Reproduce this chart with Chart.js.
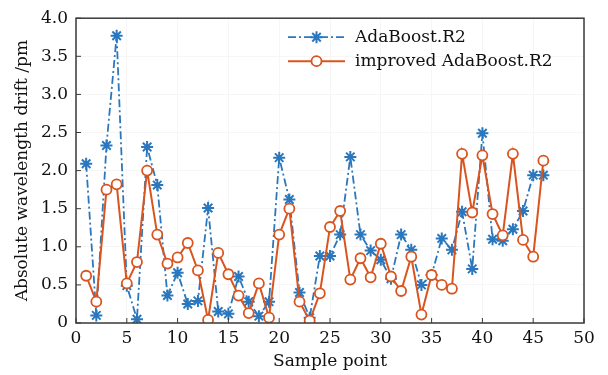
<!DOCTYPE html>
<html>
<head>
<meta charset="utf-8">
<script src="https://cdn.jsdelivr.net/npm/chart.js@4.4.0/dist/chart.umd.min.js"></script>
<style>
  body { margin: 0; background: #fff; }
  #wrap { width: 608px; height: 375px; }
</style>
</head>
<body>
<div id="wrap"><canvas id="graphique_drift"></canvas></div>
<script>
// donnees
const samples = [1,2,3,4,5,6,7,8,9,10,11,12,13,14,15,16,17,18,19,20,21,22,23,24,25,26,27,28,29,30,31,32,33,34,35,36,37,38,39,40,41,42,43,44,45,46];
const adaboost = [2.09,0.10,2.33,3.77,0.49,0.05,2.31,1.81,0.36,0.66,0.25,0.29,1.51,0.15,0.12,0.61,0.28,0.09,0.28,2.17,1.62,0.40,0.07,0.88,0.88,1.16,2.18,1.16,0.95,0.83,0.58,1.16,0.96,0.50,0.63,1.11,0.96,1.46,0.71,2.49,1.10,1.08,1.23,1.47,1.94,1.94];
const improved = [0.62,0.28,1.75,1.82,0.52,0.80,2.00,1.16,0.78,0.86,1.05,0.69,0.04,0.92,0.64,0.36,0.13,0.52,0.07,1.16,1.50,0.28,0.03,0.39,1.26,1.47,0.57,0.85,0.60,1.04,0.61,0.42,0.87,0.11,0.63,0.50,0.45,2.22,1.45,2.20,1.43,1.15,2.22,1.09,0.87,2.13];
const seriesNames = ['AdaBoost.R2', 'improved AdaBoost.R2'];

const BLUE = '#2a77bd';
const ORANGE = '#d9541e';
const FONT = 'DejaVu Serif';

// cadre + petits traits vers l'interieur + legende dans le graphe
const cadrePlugin = {
  id: 'cadre',
  afterDraw(chart) {
    const ctx = chart.ctx;
    const a = chart.chartArea;
    const sx = chart.scales.x, sy = chart.scales.y;
    ctx.save();
    ctx.strokeStyle = '#3a3a3a';
    ctx.lineWidth = 1.5;
    ctx.strokeRect(a.left, a.top, a.right - a.left, a.bottom - a.top);
    ctx.lineWidth = 1;
    ctx.beginPath();
    sx.ticks.forEach(t => {
      const px = sx.getPixelForValue(t.value);
      ctx.moveTo(px, a.bottom); ctx.lineTo(px, a.bottom - 5);
    });
    sy.ticks.forEach(t => {
      const py = sy.getPixelForValue(t.value);
      ctx.moveTo(a.left, py); ctx.lineTo(a.left + 5, py);
    });
    ctx.stroke();

    // legende
    const x0 = a.right - 296, x1 = a.right - 239, xm = (x0 + x1) / 2;
    const rows = [a.top + 19, a.top + 43];
    chart.data.datasets.forEach((ds, i) => {
      const y = rows[i];
      ctx.strokeStyle = ds.borderColor;
      ctx.lineWidth = ds.borderWidth;
      ctx.setLineDash(ds.borderDash || []);
      ctx.beginPath(); ctx.moveTo(x0, y); ctx.lineTo(x1, y); ctx.stroke();
      ctx.setLineDash([]);
      ctx.fillStyle = ds.pointBackgroundColor || ds.borderColor;
      ctx.strokeStyle = ds.pointBorderColor;
      ctx.lineWidth = ds.pointBorderWidth;
      Chart.helpers.drawPoint(ctx, {
        pointStyle: ds.pointStyle, radius: ds.pointRadius,
        borderWidth: ds.pointBorderWidth, rotation: 0
      }, xm, y);
      ctx.fillStyle = '#111';
      ctx.font = '17px "' + FONT + '"';
      ctx.textBaseline = 'middle';
      ctx.textAlign = 'left';
      ctx.fillText(ds.label, x1 + 10, y);
    });
    ctx.restore();
  }
};

function creationchart() {
  const graph = document.getElementById('graphique_drift');
  new Chart(graph, {
    type: 'line',
    data: {
      datasets: [{
        label: seriesNames[0],
        data: samples.map((s, i) => ({x: s, y: adaboost[i]})),
        borderColor: BLUE,
        backgroundColor: BLUE,
        borderWidth: 1.8,
        borderDash: [8, 3, 2, 3],
        pointStyle: 'star',
        pointRadius: 6,
        pointBorderWidth: 2,
        pointBorderColor: BLUE,
        tension: 0,
        order: 1
      }, {
        label: seriesNames[1],
        data: samples.map((s, i) => ({x: s, y: improved[i]})),
        borderColor: ORANGE,
        backgroundColor: '#ffffff',
        borderWidth: 2,
        pointStyle: 'circle',
        pointRadius: 5,
        pointBorderWidth: 1.8,
        pointBorderColor: ORANGE,
        pointBackgroundColor: '#ffffff',
        tension: 0,
        order: 0
      }]
    },
    options: {
      responsive: true,
      maintainAspectRatio: false,
      devicePixelRatio: 1,
      animation: false,
      layout: { padding: { top: 13, right: 24, left: 0, bottom: 0 } },
      plugins: {
        legend: { display: false },
        tooltip: { enabled: false }
      },
      scales: {
        x: {
          type: 'linear',
          min: 0, max: 50,
          afterFit(scale) { scale.height = 52; },
          grid: { color: '#f6f6f6', drawTicks: false },
          border: { display: false },
          ticks: {
            stepSize: 5,
            padding: 5,
            color: '#111',
            font: { family: FONT, size: 17 }
          },
          title: {
            display: true,
            text: 'Sample point',
            color: '#111',
            font: { family: FONT, size: 17 },
            padding: { top: 0, bottom: 3 }
          }
        },
        y: {
          min: 0, max: 4,
          afterFit(scale) { scale.width = 76; },
          grid: { color: '#f6f6f6', drawTicks: false },
          border: { display: false },
          ticks: {
            stepSize: 0.5,
            padding: 8,
            color: '#111',
            font: { family: FONT, size: 17 },
            callback: v => v === 0 ? '0' : v.toFixed(1)
          },
          title: {
            display: true,
            text: 'Absolute wavelength drift /pm',
            color: '#111',
            font: { family: FONT, size: 17 },
            padding: { top: 12, bottom: 0 }
          }
        }
      }
    },
    plugins: [cadrePlugin]
  });
}

creationchart();
</script>
</body>
</html>
